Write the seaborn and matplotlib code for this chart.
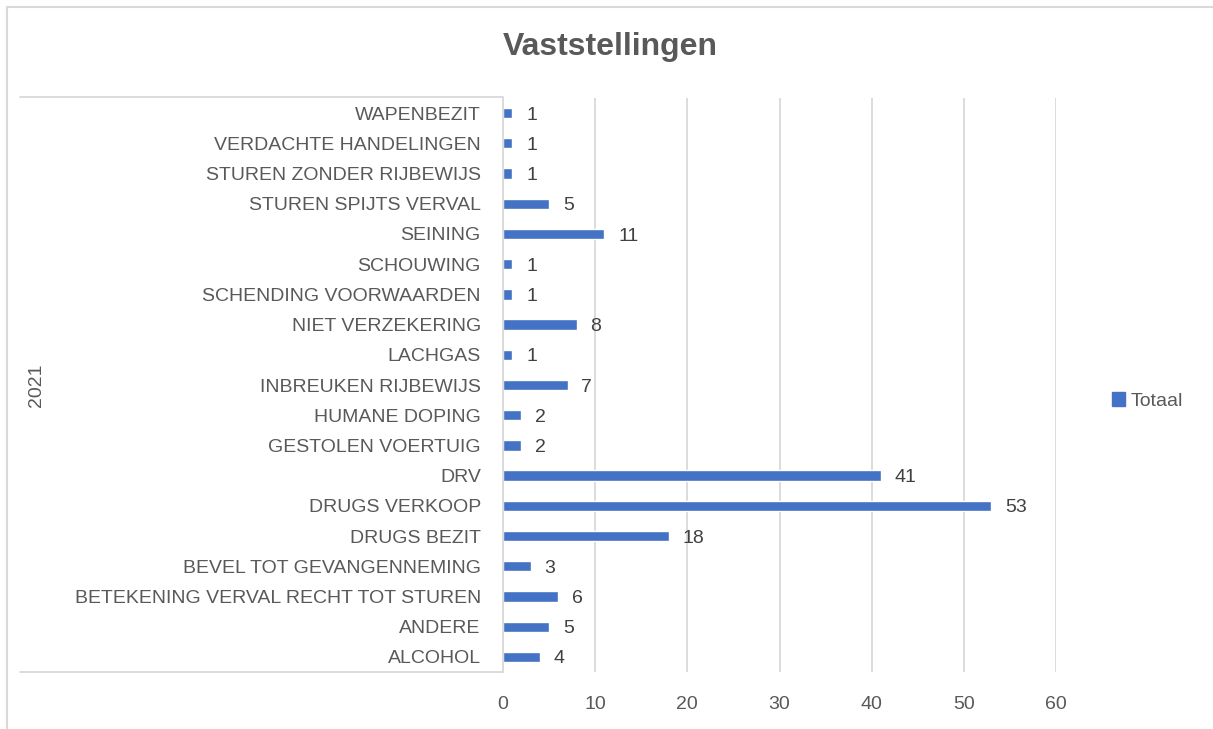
import pandas as pd
import matplotlib.pyplot as plt
import seaborn as sns
from matplotlib.lines import Line2D
from matplotlib.patches import Patch

# Categories top to bottom, as in the chart
categories = ["WAPENBEZIT", "VERDACHTE HANDELINGEN", "STUREN ZONDER RIJBEWIJS",
              "STUREN SPIJTS VERVAL", "SEINING", "SCHOUWING", "SCHENDING VOORWAARDEN",
              "NIET VERZEKERING", "LACHGAS", "INBREUKEN RIJBEWIJS", "HUMANE DOPING",
              "GESTOLEN VOERTUIG", "DRV", "DRUGS VERKOOP", "DRUGS BEZIT",
              "BEVEL TOT GEVANGENNEMING", "BETEKENING VERVAL RECHT TOT STUREN",
              "ANDERE", "ALCOHOL"]
totaal = [1, 1, 1, 5, 11, 1, 1, 8, 1, 7, 2, 2, 41, 53, 18, 3, 6, 5, 4]
x_ticks = [0, 10, 20, 30, 40, 50, 60]
group_label = "2021"
series_name = "Totaal"
title = "Vaststellingen"

sns.set_style("white")
plt.rcParams['font.family'] = ['Liberation Sans', 'DejaVu Sans']

BAR = "#4472C4"
GRID = "#d9d9d9"
TXT = "#595959"
FS = 14

df = pd.DataFrame({"cat": categories, "val": totaal})

fig = plt.figure(figsize=(12.13, 7.29), dpi=100)
W, H = 1213, 729
ax = fig.add_axes([503 / W, 1 - 672 / H, (1056 - 503) / W, (672 - 98) / H])

sns.barplot(data=df, x="val", y="cat", order=categories, color=BAR,
            width=0.34, saturation=1, ax=ax)

ax.set_xlim(0, 60)
ax.set_xticks(x_ticks)
ax.set_xlabel("")
ax.set_ylabel("")
ax.xaxis.grid(True, color=GRID, linewidth=1.3)
ax.set_axisbelow(True)
for s in ["top", "right", "bottom"]:
    ax.spines[s].set_visible(False)
ax.spines["left"].set_color(GRID)
ax.spines["left"].set_linewidth(1.3)
ax.tick_params(axis="x", length=0, labelsize=FS, colors=TXT, pad=17)
ax.tick_params(axis="y", length=0, labelsize=FS, colors=TXT, pad=16)

# data labels, a fixed gap right of each bar
for i, v in enumerate(totaal):
    ax.annotate(str(v), (v, i), xytext=(10, -1.5), textcoords="offset points",
                va="center", ha="left", fontsize=FS, color="#404040")

# group box lines and the group label
fig.add_artist(Line2D([20 / W, 503 / W], [1 - 97 / H, 1 - 97 / H], color=GRID, lw=1.3))
fig.add_artist(Line2D([20 / W, 503 / W], [1 - 672 / H, 1 - 672 / H], color=GRID, lw=1.3))
fig.text(36 / W, 1 - 385 / H, group_label, rotation=90, ha="center", va="center",
         fontsize=FS, color=TXT)

# outer chart border
fig.add_artist(Line2D([7 / W, 1.0], [1 - 7 / H, 1 - 7 / H], color=GRID, lw=1.5))
fig.add_artist(Line2D([7 / W, 7 / W], [1 - 7 / H, 0.0], color=GRID, lw=1.5))

fig.text(610 / W, 1 - 47 / H, title, ha="center", va="center", fontsize=23,
         fontweight="bold", color=TXT)

leg = fig.legend(handles=[Patch(color=BAR, label=series_name)], loc="center left",
                 bbox_to_anchor=(1094 / W, 1 - 401 / H), frameon=False, fontsize=FS,
                 handlelength=0.7, handleheight=0.7, handletextpad=0.3, labelcolor=TXT)

plt.savefig("out.png", dpi=100)
plt.close()
